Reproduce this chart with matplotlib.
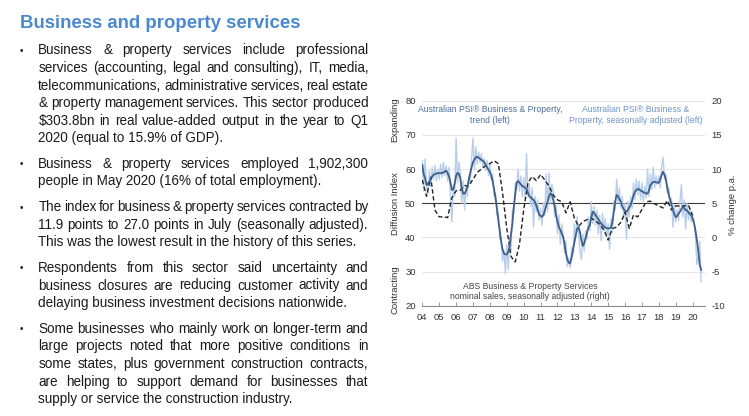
import matplotlib
matplotlib.use('Agg')
import matplotlib.pyplot as plt
import numpy as np

plt.rcParams['font.family'] = ['Liberation Sans', 'DejaVu Sans']
plt.rcParams['axes.unicode_minus'] = False

# ---- data ----
# PSI business & property, trend (monthly, Jan 2004 .. Jul 2020)
trend = [
    61.2, 58.5, 57.3, 55.3, 55.8, 56.3, 57.0, 57.8, 58.3, 58.5, 58.7, 58.8,
    58.8, 58.8, 58.8, 59.0, 59.3, 59.5, 58.8, 57.8, 56.0, 53.9, 54.0, 55.8,
    58.0, 58.9, 58.6, 57.3, 54.2, 52.8, 52.8, 53.6, 54.8, 56.8, 58.8, 60.5,
    62.0, 62.8, 63.4, 63.6, 63.3, 63.0, 62.7, 62.4, 62.0, 61.2, 60.5, 59.8,
    59.2, 58.0, 56.3, 54.0, 51.5, 48.5, 45.0, 42.0, 38.7, 36.5, 35.3, 35.0,
    35.0, 35.8, 37.3, 41.0, 44.1, 49.0, 52.5, 56.0, 56.5, 56.0, 55.5, 55.0,
    54.8, 54.5, 54.2, 53.0, 52.0, 51.7, 51.3, 51.0, 50.3, 49.3, 48.0, 46.6,
    46.3, 46.0, 46.5, 47.8, 49.0, 50.5, 52.0, 52.9, 52.5, 51.0, 49.0, 46.5,
    44.5, 43.0, 42.2, 41.2, 40.2, 38.0, 35.3, 33.5, 32.6, 32.4, 34.0, 36.3,
    38.5, 40.7, 42.5, 43.0, 41.5, 39.0, 37.5, 38.3, 39.8, 41.5, 42.8, 43.6,
    45.8, 47.5, 47.2, 46.5, 46.0, 45.3, 44.6, 44.1, 43.6, 43.2, 42.9, 42.7,
    42.6, 42.7, 42.9, 44.5, 47.5, 50.5, 52.4, 52.0, 51.2, 50.4, 49.2, 48.2,
    47.8, 47.5, 48.0, 48.8, 49.5, 50.8, 52.3, 53.3, 53.9, 54.1, 54.1, 53.7,
    53.5, 53.2, 53.1, 52.8, 52.8, 53.8, 55.3, 55.8, 56.2, 56.3, 56.1, 56.0,
    56.0, 57.0, 58.3, 59.2, 58.3, 56.8, 54.5, 52.5, 51.0, 49.5, 48.0, 46.8,
    45.9, 46.2, 47.0, 47.5, 48.3, 49.0, 48.6, 48.0, 47.9, 47.3, 46.8, 46.6,
    45.5, 44.1, 42.0, 39.2, 36.0, 32.0, 30.5,
]

# PSI business & property, seasonally adjusted (monthly)
sa = [
    62.5, 53.5, 63.0, 55.0, 52.5, 59.5, 55.0, 60.5, 57.0, 61.0, 56.5, 60.0,
    57.0, 61.5, 57.5, 62.0, 58.0, 61.0, 56.5, 60.5, 52.0, 44.5, 55.0, 52.0,
    69.0, 56.0, 62.0, 59.0, 50.0, 56.5, 48.0, 55.0, 52.0, 58.0, 56.0, 63.0,
    69.0, 60.0, 66.5, 61.5, 65.0, 62.0, 64.5, 60.5, 63.0, 59.5, 62.5, 58.0,
    61.5, 57.0, 58.5, 52.0, 53.0, 46.5, 47.0, 39.5, 40.0, 33.0, 36.0, 29.5,
    38.0, 30.5, 40.0, 36.0, 48.0, 47.0, 56.0, 54.0, 60.0, 53.5, 58.0, 52.0,
    57.5, 51.5, 64.5, 52.0, 55.5, 49.0, 54.5, 43.0, 52.0, 47.5, 51.0, 45.0,
    48.5, 43.5, 50.0, 46.5, 58.5, 47.5, 59.0, 50.0, 55.5, 53.5, 46.0, 49.5,
    41.0, 46.5, 38.0, 44.0, 40.0, 35.5, 39.0, 31.5, 34.0, 31.0, 37.0, 35.0,
    44.0, 40.0, 46.0, 41.0, 36.0, 33.5, 41.0, 36.0, 42.0, 39.5, 46.0, 42.0,
    50.5, 44.0, 49.0, 43.5, 48.0, 41.0, 46.5, 39.0, 47.0, 42.0, 45.5, 40.0,
    44.0, 36.5, 45.5, 41.5, 50.5, 48.0, 57.0, 50.0, 54.5, 48.5, 52.0, 45.5,
    50.0, 39.5, 50.5, 46.0, 52.0, 48.5, 56.0, 51.0, 57.0, 52.5, 56.5, 51.0,
    56.0, 50.5, 55.0, 51.5, 60.0, 52.0, 58.5, 54.0, 60.5, 54.5, 58.0, 55.5,
    58.0, 54.5, 61.0, 63.5, 57.0, 58.5, 53.0, 54.5, 49.0, 51.5, 43.0, 49.5,
    44.5, 48.0, 45.0, 50.5, 55.5, 46.0, 51.0, 42.5, 50.0, 45.0, 48.5, 44.5,
    46.0, 45.0, 40.0, 32.0, 34.5, 38.9, 27.0,
]

# ABS business & property services nominal sales, % change p.a. (quarterly, 2004Q1 .. 2020Q1)
abs_sales = [
    8.4, 6.0, 8.8, 4.0,
    3.0, 3.0, 2.9, 5.8,
    6.8, 6.9, 7.6, 7.5,
    8.5, 9.5, 10.0, 10.5,
    10.8, 11.2, 10.8, 6.5,
    1.3, -2.8, -3.6, -1.0,
    4.0, 8.0, 8.9, 8.3,
    9.2, 8.4, 7.5, 6.2,
    5.5, 5.2, 3.6, 5.2,
    2.8, 1.6, 2.3, 2.6,
    2.8, 2.4, 1.9, 1.1,
    -0.4, 1.3, 1.5, 2.2,
    3.7, 1.3, 3.3, 3.0,
    4.1, 5.2, 5.3, 4.9,
    4.6, 4.3, 5.4, 4.0,
    4.6, 4.6, 4.6, 4.7,
    3.2,
]

year_ticks = list(range(2004, 2021))
year_labels = ['%02d' % (y % 100) for y in year_ticks]

months = 2004 + np.arange(len(trend)) / 12
quarters = 2004 + np.arange(len(abs_sales)) / 4

# ---- figure ----
W, H = 749, 416
fig = plt.figure(figsize=(W / 100, H / 100), dpi=100)
bg = fig.add_axes([0, 0, 1, 1])
bg.set_xlim(0, W)
bg.set_ylim(H, 0)
bg.axis('off')

bg.text(20, 28.3, 'Business and property services', fontsize=13.4,
        fontweight='bold', color='#4a89d0', va='baseline', ha='left')

paras = [
    ['Business & property services include professional',
     'services (accounting, legal and consulting), IT, media,',
     'telecommunications, administrative services, real estate',
     '& property management services. This sector produced',
     '$303.8bn in real value-added output in the year to Q1',
     '2020 (equal to 15.9% of GDP).'],
    ['Business & property services employed 1,902,300',
     'people in May 2020 (16% of total employment).'],
    ['The index for business & property services contracted by',
     '11.9 points to 27.0 points in July (seasonally adjusted).',
     'This was the lowest result in the history of this series.'],
    ['Respondents from this sector said uncertainty and',
     'business closures are reducing customer activity and',
     'delaying business investment decisions nationwide.'],
    ['Some businesses who mainly work on longer-term and',
     'large projects noted that more positive conditions in',
     'some states, plus government construction contracts,',
     'are helping to support demand for businesses that',
     'supply or service the construction industry.'],
]

renderer = fig.canvas.get_renderer()
body = dict(fontsize=9.75, color='#1a1a1a', va='baseline', ha='left', parse_math=False)
x0, x1 = 38.3, 368.3
lh, pgap = 17.6, 8.0
y = 54.3
for p in paras:
    bg.text(21.7, y - 3.5, '•', fontsize=7, color='#1a1a1a', ha='center', va='center')
    for i, line in enumerate(p):
        if i == len(p) - 1:
            bg.text(x0, y, line, **body)
        else:
            words = line.split(' ')
            arts = [bg.text(0, y, w, **body) for w in words]
            widths = [a.get_window_extent(renderer).width for a in arts]
            gap = (x1 - x0 - sum(widths)) / (len(words) - 1)
            x = x0
            for a, w in zip(arts, widths):
                a.set_x(x)
                x += w + gap
        y += lh
    y += pgap

# ---- chart ----
L, R, T, B = 422.3, 705.0, 100.7, 305.7
ax = fig.add_axes([L / W, 1 - B / H, (R - L) / W, (B - T) / H])
ax.set_xlim(2004, 2020.73)
ax.set_ylim(20, 80)
for g in [30, 40, 60, 70, 80]:
    ax.axhline(g, color='#e6e6e6', lw=0.8, zorder=0)
ax.axhline(50, color='#3a3a3a', lw=0.8, zorder=1)

ax.plot(months, sa, color='#b8cdea', lw=1.0, zorder=2)
ax2 = ax.twinx()
ax2.set_ylim(-10, 20)
ax2.plot(quarters, abs_sales, color='#222222', lw=1.0, ls=(0, (3.2, 1.8)), zorder=3)
ax3 = ax.twinx()
ax3.set_ylim(20, 80)
ax3.plot(months, trend, color='#3d5f8a', lw=1.3, zorder=4)
ax3.set_yticks([])

for a in (ax, ax2, ax3):
    a.patch.set_visible(False)
    for s in ('left', 'right', 'top', 'bottom'):
        a.spines[s].set_visible(False)
ax.spines['bottom'].set_visible(True)
ax.spines['bottom'].set_color('#8a8a8a')
ax.spines['bottom'].set_linewidth(0.8)

ax.set_xticks(year_ticks)
ax.set_xticklabels(year_labels)
ax.tick_params(axis='x', direction='in', length=3, width=0.6, color='#8a8a8a',
               labelsize=6.8, labelcolor='#333333', pad=5)
ax.set_yticks(range(20, 81, 10))
ax.tick_params(axis='y', length=0, labelsize=6.8, labelcolor='#333333', pad=4.8)
ax2.set_yticks(range(-10, 21, 5))
ax2.tick_params(axis='y', length=0, labelsize=6.8, labelcolor='#333333', pad=4.8)

# chart labels, on a transparent overlay above the plot
top = fig.add_axes([0, 0, 1, 1])
top.set_xlim(0, W)
top.set_ylim(H, 0)
top.axis('off')
lab = dict(va='center', ha='center')
top.text(395, 204, 'Diffusion Index', rotation=90, color='#333333', fontsize=6.8, **lab)
top.text(395, 120, 'Expanding', rotation=90, color='#333333', fontsize=6.8, **lab)
top.text(395, 290, 'Contracting', rotation=90, color='#333333', fontsize=6.8, **lab)
top.text(732.7, 205, '% change p.a.', rotation=90, color='#333333', fontsize=6.8, **lab)
top.text(490, 114.9, 'Australian PSI® Business & Property,\ntrend (left)',
         color='#4a6f9c', linespacing=1.2, fontsize=6.2, **lab)
top.text(635.7, 114.9, 'Australian PSI® Business &\nProperty, seasonally adjusted (left)',
         color='#6d93c8', linespacing=1.2, fontsize=6.2, **lab)
top.text(530, 291.3, 'ABS Business & Property Services\nnominal sales, seasonally adjusted (right)',
         color='#444444', linespacing=1.2, fontsize=6.2, **lab)

fig.savefig('out.png', dpi=100)
